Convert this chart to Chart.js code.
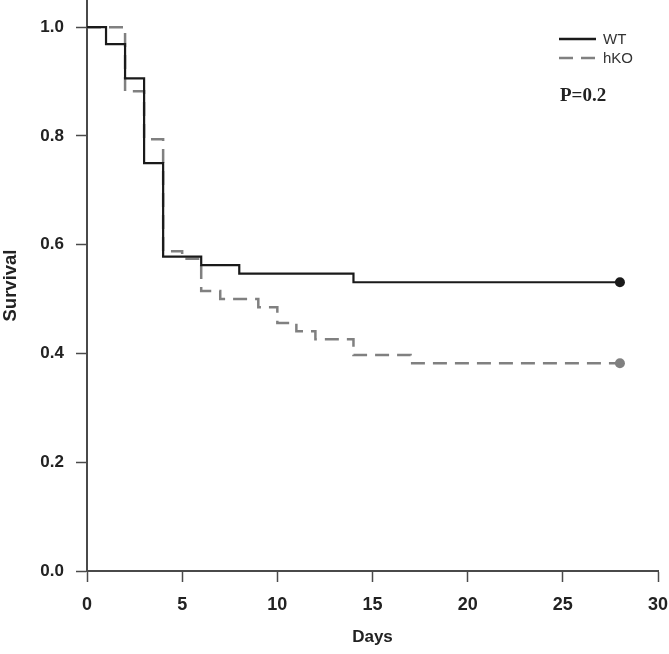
<!DOCTYPE html>
<html>
<head>
<meta charset="utf-8">
<script src="https://cdn.jsdelivr.net/npm/chart.js@4/dist/chart.umd.min.js"></script>
<style>
    html, body { margin: 0; padding: 0; background: #ffffff; }
    #survChart { display: block; }
</style>
</head>
<body>
<canvas id="survChart" width="669" height="654"></canvas>
<script>
    "use strict";
    // Kaplan-Meier steps
    var wtDays = [0, 1, 2, 3, 4, 6, 8, 14, 28];
    var wtSurv = [1.0, 0.969, 0.906, 0.75, 0.578, 0.5625, 0.547, 0.531, 0.531];
    var koDays = [0, 2, 3, 4, 5, 6, 7, 9, 10, 11, 12, 14, 17, 28];
    var koSurv = [1.0, 0.882, 0.794, 0.588, 0.574, 0.515, 0.5, 0.485, 0.456, 0.441, 0.426, 0.397, 0.382, 0.382];
    var seriesNames = ['WT', 'hKO'];
    var xTicks = [0, 5, 10, 15, 20, 25, 30];
    var yTicks = [0.0, 0.2, 0.4, 0.6, 0.8, 1.0];
    var pValueText = 'P=0.2';

    var axisColor = '#4a4a4a';
    var textColor = '#222222';
    var wtColor = '#1a1a1a';
    var koColor = '#808080';
    var sansFamily = '"Liberation Sans", Arial, sans-serif';

    function toPoints(xs, ys) {
        return xs.map(function(x, i) { return {x: x, y: ys[i]}; });
    }
    // only the censor dot at the end of each curve
    function endRadius(xs, r) {
        return xs.map(function(x, i) { return i === xs.length - 1 ? r : 0; });
    }

    var legendPlugin = {
        id: 'kmLegend',
        afterDraw: function(chart) {
            var ctx = chart.ctx;
            var rows = [
                {label: seriesNames[0], color: wtColor, dash: [], y: 39},
                {label: seriesNames[1], color: koColor, dash: [14, 8], y: 58}
            ];
            ctx.save();
            rows.forEach(function(r) {
                ctx.beginPath();
                ctx.setLineDash(r.dash);
                ctx.strokeStyle = r.color;
                ctx.lineWidth = 2.5;
                ctx.moveTo(559, r.y);
                ctx.lineTo(596, r.y);
                ctx.stroke();
                ctx.setLineDash([]);
                ctx.fillStyle = '#333333';
                ctx.font = '15px ' + sansFamily;
                ctx.textBaseline = 'middle';
                ctx.textAlign = 'left';
                ctx.fillText(r.label, 603, r.y + 1);
            });
            ctx.fillStyle = textColor;
            ctx.font = 'bold 19px "Liberation Serif", "Times New Roman", serif';
            ctx.textBaseline = 'middle';
            ctx.fillText(pValueText, 560, 96);
            ctx.restore();
        }
    };

    var ctx = document.getElementById('survChart').getContext('2d');
    new Chart(ctx, {
        type: 'line',
        data: {
            datasets: [
                {
                    label: seriesNames[0],
                    data: toPoints(wtDays, wtSurv),
                    stepped: true,
                    borderColor: wtColor,
                    borderWidth: 2.2,
                    pointRadius: endRadius(wtDays, 5),
                    pointBackgroundColor: wtColor,
                    pointBorderColor: wtColor,
                    pointBorderWidth: 0,
                    fill: false,
                    clip: false,
                    order: 0
                },
                {
                    label: seriesNames[1],
                    data: toPoints(koDays, koSurv),
                    stepped: true,
                    borderColor: koColor,
                    borderWidth: 2.5,
                    borderDash: [14, 8],
                    pointRadius: endRadius(koDays, 5),
                    pointBackgroundColor: koColor,
                    pointBorderColor: koColor,
                    pointBorderWidth: 0,
                    fill: false,
                    clip: false,
                    order: 1
                }
            ]
        },
        options: {
            responsive: false,
            animation: false,
            devicePixelRatio: 1,
            layout: {autoPadding: false, padding: {top: 0, right: 11, bottom: 0, left: 0}},
            plugins: {
                legend: {display: false},
                tooltip: {enabled: false}
            },
            scales: {
                x: {
                    type: 'linear',
                    min: 0,
                    max: 30,
                    afterBuildTicks: function(axis) {
                        axis.ticks = xTicks.map(function(v) { return {value: v}; });
                    },
                    afterFit: function(axis) {
                        axis.height = 83;
                        axis.paddingLeft = 0;
                        axis.paddingRight = 0;
                    },
                    ticks: {
                        color: textColor,
                        padding: 12,
                        font: {family: sansFamily, size: 18, weight: 'bold'}
                    },
                    grid: {drawOnChartArea: false, drawTicks: true, tickLength: 11, tickColor: axisColor, tickWidth: 1.5},
                    border: {display: true, color: axisColor, width: 2},
                    title: {
                        display: true,
                        text: 'Days',
                        color: textColor,
                        padding: {top: 8, bottom: 6},
                        font: {family: sansFamily, size: 17, weight: 'bold'}
                    }
                },
                y: {
                    type: 'linear',
                    min: 0,
                    max: 1.05,
                    afterBuildTicks: function(axis) {
                        axis.ticks = yTicks.map(function(v) { return {value: v}; });
                    },
                    afterFit: function(axis) {
                        axis.width = 87;
                        axis.paddingTop = 0;
                        axis.paddingBottom = 0;
                    },
                    ticks: {
                        color: textColor,
                        padding: 12,
                        callback: function(v) { return Number(v).toFixed(1); },
                        font: {family: sansFamily, size: 17, weight: 'bold'}
                    },
                    grid: {drawOnChartArea: false, drawTicks: true, tickLength: 11, tickColor: axisColor, tickWidth: 1.5},
                    border: {display: true, color: axisColor, width: 2},
                    title: {
                        display: true,
                        text: 'Survival',
                        color: textColor,
                        padding: {top: 0, bottom: 4},
                        font: {family: sansFamily, size: 18.5, weight: 'bold'}
                    }
                }
            }
        },
        plugins: [legendPlugin]
    });
</script>
</body>
</html>
